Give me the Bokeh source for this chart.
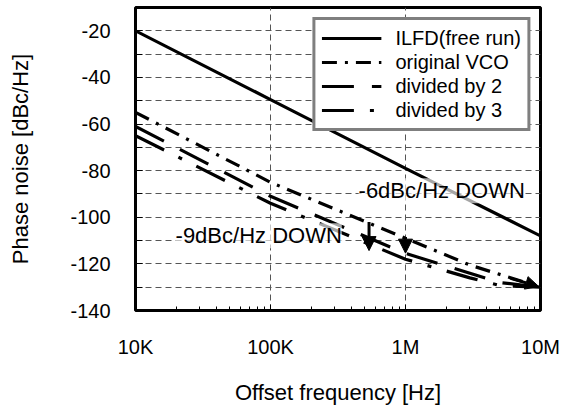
from bokeh.plotting import figure
from bokeh.models import (FixedTicker, Legend, LegendItem, Label, Arrow, NormalHead)
from bokeh.embed import file_html
from bokeh.resources import INLINE

# ---- data ----
freq_ilfd = [1e4, 1e5, 1e6, 1e7]
pn_ilfd = [-20, -49.5, -79, -108]

freq_vco = [1e4, 1e5, 1e6, 3e6, 1e7]
pn_vco = [-55, -85, -109, -120.5, -130]

freq_div2 = [1e4, 1e5, 1e6, 3e6, 5e6, 1e7]
pn_div2 = [-61, -91, -115.5, -124, -128, -130]

freq_div3 = [1e4, 1e5, 1e6, 3e6, 5e6, 1e7]
pn_div3 = [-65, -94, -118, -126, -129.3, -130]

series_names = ["ILFD(free run)", "original VCO", "divided by 2", "divided by 3"]

x_ticks = [1e4, 1e5, 1e6, 1e7]
x_tick_labels = ["10K", "100K", "1M", "10M"]
x_minor = [m * d for d in [1e4, 1e5, 1e6] for m in range(2, 10)]
y_ticks = [-140, -120, -100, -80, -60, -40, -20]
y_tick_labels = ["-140", "-120", "-100", "-80", "-60", "-40", "-20"]
y_minor = list(range(-140, -9, 10))
y_grid = list(range(-130, -19, 10))

# down arrows (x, from, to)
arrow_x = [5.37e5, 1.0e6]
arrow_y_from = [-102, -108.5]
arrow_y_to = [-114.3, -115.4]
# arrowhead at the lower right end
end_arrow_x = [6.0e6, 9.7e6]
end_arrow_y = [-126.2, -129.7]

notes = ["-6dBc/Hz DOWN", "-9dBc/Hz DOWN"]
note_x = [4.49e5, 1.98e4]
note_y = [-88.6, -107.9]

FONT = "Liberation Sans"

p = figure(width=560, height=410, x_axis_type="log",
           x_range=(1e4, 1e7), y_range=(-140, -10),
           output_backend="svg", toolbar_location=None,
           min_border_left=135, min_border_right=20,
           min_border_top=7, min_border_bottom=100)

p.outline_line_color = "black"
p.outline_line_width = 3
p.background_fill_color = "white"
p.border_fill_color = "white"

# axes
p.xaxis.ticker = FixedTicker(ticks=x_ticks, minor_ticks=x_minor)
p.xaxis.major_label_overrides = {t: l for t, l in zip(x_ticks, x_tick_labels)}
p.yaxis.ticker = FixedTicker(ticks=y_ticks, minor_ticks=y_minor)
p.yaxis.major_label_overrides = {t: l for t, l in zip(y_ticks, y_tick_labels)}
for ax in (p.xaxis[0], p.yaxis[0]):
    ax.axis_line_color = None
    ax.major_tick_out = 0
    ax.minor_tick_out = 0
    ax.major_tick_line_color = "black"
    ax.minor_tick_line_color = "black"
    ax.major_tick_line_width = 1
    ax.minor_tick_line_width = 1
    ax.major_label_text_font = FONT
    ax.major_label_text_font_size = "20px"
    ax.major_label_text_color = "black"
    ax.axis_label_text_font = FONT
    ax.axis_label_text_font_size = "22px"
    ax.axis_label_text_font_style = "normal"
    ax.axis_label_text_color = "black"

p.xaxis.major_label_standoff = 25
p.yaxis.major_label_standoff = 25
p.xaxis.major_tick_in = 6
p.xaxis.minor_tick_in = 4
p.yaxis.major_tick_in = 7
p.yaxis.minor_tick_in = 7
p.xaxis.axis_label = "Offset frequency [Hz]"
p.yaxis.axis_label = "Phase noise [dBc/Hz]"
p.xaxis.axis_label_standoff = 19
p.yaxis.axis_label_standoff = 34

# grids
p.xgrid.ticker = FixedTicker(ticks=x_ticks[1:3])
p.ygrid.ticker = FixedTicker(ticks=y_grid)
for g in (p.xgrid[0], p.ygrid[0]):
    g.grid_line_color = "#555555"
    g.grid_line_dash = "6 4"
    g.grid_line_width = 1

# series
r1 = p.line(freq_ilfd, pn_ilfd, line_color="black", line_width=3.2)
r2 = p.line(freq_vco, pn_vco, line_color="black", line_width=3.2, line_dash="15 8 3 8")
r3 = p.line(freq_div2, pn_div2, line_color="black", line_width=3.2, line_dash="32 18")
r4 = p.line(freq_div3, pn_div3, line_color="black", line_width=3.2, line_dash="32 16 4 16")

# notes with semi-transparent white backing
for t, x, y in zip(notes, note_x, note_y):
    p.add_layout(Label(x=x, y=y, text=t, text_font=FONT, text_font_size="22px",
                       text_color="black", text_baseline="middle", text_align="left",
                       background_fill_color="white", background_fill_alpha=0.65))

# arrows
for x, y0, y1 in zip(arrow_x, arrow_y_from, arrow_y_to):
    p.add_layout(Arrow(end=NormalHead(size=14, fill_color="black", line_color="black"),
                       x_start=x, y_start=y0, x_end=x, y_end=y1,
                       line_color="black", line_width=3))
p.add_layout(Arrow(end=NormalHead(size=13, fill_color="black", line_color="black"),
                   x_start=end_arrow_x[0], y_start=end_arrow_y[0],
                   x_end=end_arrow_x[1], y_end=end_arrow_y[1],
                   line_color="black", line_width=3))

legend = Legend(items=[LegendItem(label=n, renderers=[r]) for n, r in
                       zip(series_names, [r1, r2, r3, r4])],
                location="top_right")
legend.margin = 10
legend.padding = 6
legend.spacing = 0
legend.label_height = 24
legend.glyph_height = 24
legend.glyph_width = 60
legend.label_standoff = 14
legend.label_text_font = FONT
legend.label_text_font_size = "20px"
legend.label_text_color = "black"
legend.border_line_color = "black"
legend.border_line_width = 3
legend.background_fill_color = "white"
legend.background_fill_alpha = 1.0
p.add_layout(legend, "center")

open("out.html", "w").write(file_html(p, INLINE))
